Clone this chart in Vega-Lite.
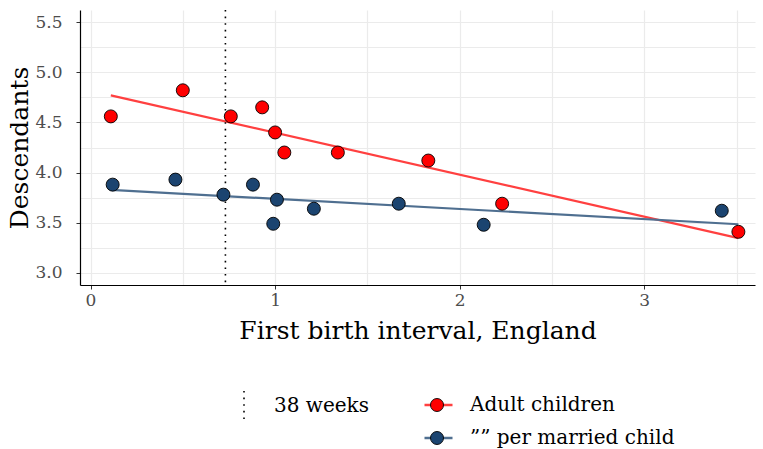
{
  "$schema": "https://vega.github.io/schema/vega-lite/v6.json",
  "width": 675,
  "height": 275,
  "autosize": "none",
  "padding": {"left": 80, "top": 10, "right": 8, "bottom": 164},
  "background": "white",
  "config": {
    "font": "DejaVu Serif",
    "view": {"stroke": null},
    "axis": {"labelFont": "DejaVu Serif", "titleFont": "DejaVu Serif", "titleFontWeight": "normal"},
    "legend": {"labelFont": "DejaVu Serif"}
  },
  "datasets": {
    "pts": [
      {"x": 0.11, "y": 4.56, "series": "Adult children"},
      {"x": 0.50, "y": 4.82, "series": "Adult children"},
      {"x": 0.76, "y": 4.56, "series": "Adult children"},
      {"x": 0.93, "y": 4.65, "series": "Adult children"},
      {"x": 1.00, "y": 4.40, "series": "Adult children"},
      {"x": 1.05, "y": 4.20, "series": "Adult children"},
      {"x": 1.34, "y": 4.20, "series": "Adult children"},
      {"x": 1.83, "y": 4.12, "series": "Adult children"},
      {"x": 2.23, "y": 3.69, "series": "Adult children"},
      {"x": 3.51, "y": 3.41, "series": "Adult children"},
      {"x": 0.12, "y": 3.88, "series": "”” per married child"},
      {"x": 0.46, "y": 3.93, "series": "”” per married child"},
      {"x": 0.72, "y": 3.78, "series": "”” per married child"},
      {"x": 0.88, "y": 3.88, "series": "”” per married child"},
      {"x": 1.01, "y": 3.73, "series": "”” per married child"},
      {"x": 0.99, "y": 3.49, "series": "”” per married child"},
      {"x": 1.21, "y": 3.64, "series": "”” per married child"},
      {"x": 1.67, "y": 3.69, "series": "”” per married child"},
      {"x": 2.13, "y": 3.48, "series": "”” per married child"},
      {"x": 3.42, "y": 3.62, "series": "”” per married child"}
    ],
    "ref": [{"x": 0.7308, "label": "38 weeks"}]
  },
  "layer": [
    {
      "data": {"name": "pts"},
      "mark": {"type": "point", "filled": true, "opacity": 0, "size": 1},
      "encoding": {
        "x": {"field": "x", "type": "quantitative",
          "scale": {"domain": [-0.057, 3.6], "nice": false, "zero": false},
          "axis": {"orient": "bottom", "values": [0, 0.5, 1, 1.5, 2, 2.5, 3, 3.5], "grid": true, "gridColor": "#ebebeb", "gridWidth": 1.2, "labels": false, "ticks": false, "domain": false, "title": null}},
        "y": {"field": "y", "type": "quantitative",
          "scale": {"domain": [2.88, 5.62], "nice": false, "zero": false},
          "axis": {"orient": "left", "values": [3, 3.25, 3.5, 3.75, 4, 4.25, 4.5, 4.75, 5, 5.25, 5.5], "grid": true, "gridColor": "#ebebeb", "gridWidth": 1.2, "labels": false, "ticks": false, "domain": false, "title": null}}
      }
    },
    {
      "data": {"name": "pts"},
      "transform": [{"regression": "y", "on": "x", "groupby": ["series"], "extent": [0.11, 3.51]}],
      "mark": {"type": "line", "strokeWidth": 2.2},
      "encoding": {
        "x": {"field": "x", "type": "quantitative",
          "scale": {"domain": [-0.057, 3.6], "nice": false, "zero": false},
          "axis": {"orient": "bottom", "values": [0, 1, 2, 3], "grid": false, "domain": true, "domainColor": "black", "domainWidth": 1.2, "ticks": true, "tickColor": "#333333", "tickSize": 4, "labelFont": "DejaVu Serif", "labelFontSize": 17, "labelColor": "#4d4d4d", "labelPadding": 3, "title": "First birth interval, England", "titleFont": "DejaVu Serif", "titleFontSize": 25, "titleColor": "black", "titlePadding": 10}},
        "y": {"field": "y", "type": "quantitative",
          "scale": {"domain": [2.88, 5.62], "nice": false, "zero": false},
          "axis": {"orient": "left", "values": [3, 3.5, 4, 4.5, 5, 5.5], "format": ".1f", "grid": false, "domain": true, "domainColor": "black", "domainWidth": 1.2, "ticks": true, "tickColor": "#333333", "tickSize": 4, "labelFont": "DejaVu Serif", "labelFontSize": 17, "labelColor": "#4d4d4d", "labelPadding": 14, "title": "Descendants", "titleFont": "DejaVu Serif", "titleFontSize": 25, "titleColor": "black", "titlePadding": 2}},
        "stroke": {"field": "series", "type": "nominal",
          "scale": {"domain": ["Adult children", "”” per married child"], "range": ["#ff4040", "#4f6f90"]},
          "legend": {"orient": "none", "legendX": 343, "legendY": 381, "title": null, "symbolType": "stroke", "symbolSize": 784, "symbolStrokeWidth": 2.5, "labelFont": "DejaVu Serif", "labelFontSize": 20, "labelColor": "black", "labelOffset": 16, "labelLimit": 0, "clipHeight": 28, "rowPadding": 5}}
      }
    },
    {
      "data": {"name": "ref"},
      "mark": {"type": "rule", "color": "black", "strokeWidth": 1.6},
      "encoding": {
        "x": {"field": "x", "type": "quantitative", "scale": {"domain": [-0.057, 3.6], "nice": false, "zero": false}, "axis": null},
        "strokeDash": {"field": "label", "type": "nominal", "scale": {"range": [[1.6, 5]]},
          "legend": {"orient": "none", "legendX": 148, "legendY": 380, "title": null, "symbolType": "M0,-1L0,1", "symbolSize": 900, "symbolStrokeColor": "black", "symbolStrokeWidth": 1.6, "labelFont": "DejaVu Serif", "labelFontSize": 20, "labelColor": "black", "labelOffset": 14, "labelLimit": 0}}
      }
    },
    {
      "data": {"name": "pts"},
      "mark": {"type": "circle", "size": 169, "opacity": 1, "stroke": "black", "strokeWidth": 0.9},
      "encoding": {
        "x": {"field": "x", "type": "quantitative", "scale": {"domain": [-0.057, 3.6], "nice": false, "zero": false}, "axis": null},
        "y": {"field": "y", "type": "quantitative", "scale": {"domain": [2.88, 5.62], "nice": false, "zero": false}, "axis": null},
        "fill": {"field": "series", "type": "nominal",
          "scale": {"domain": ["”” per married child", "Adult children"], "range": ["#1b4470", "#ff0000"]},
          "legend": {"orient": "none", "legendX": 350, "legendY": 381, "title": null, "values": ["Adult children", "”” per married child"], "symbolType": "circle", "symbolSize": 169, "symbolStrokeColor": "black", "symbolStrokeWidth": 0.9, "symbolOpacity": 1, "labelExpr": "''", "clipHeight": 28, "rowPadding": 5}}
      }
    }
  ],
  "resolve": {"axis": {"x": "independent", "y": "independent"}}
}
